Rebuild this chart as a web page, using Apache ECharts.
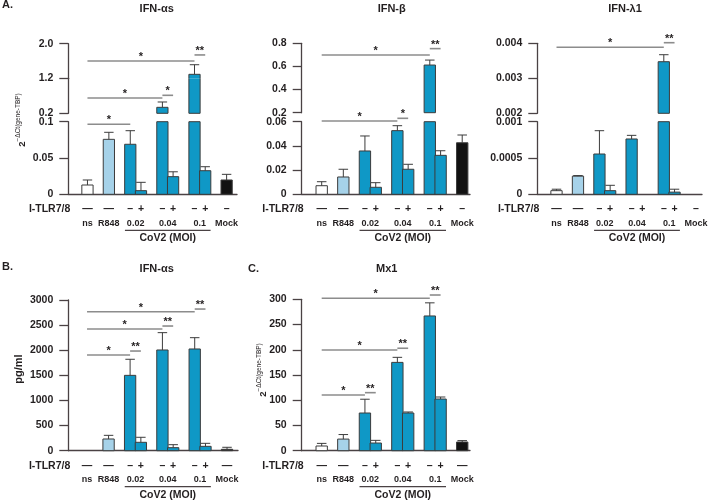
<!DOCTYPE html>
<html>
<head>
<meta charset="utf-8">
<title>IFN responses to CoV2</title>
<script src="https://cdn.jsdelivr.net/npm/echarts@6/dist/echarts.min.js"></script>
<style>
    html, body { margin: 0; background: #fff; }
    #main { width: 708px; height: 501px; }
</style>
</head>
<body>
<div id="main"></div>
<script>
// --- data ---------------------------------------------------------------
var conditions = ['ns', 'R848', '0.02 -', '0.02 +', '0.04 -', '0.04 +', '0.1 -', '0.1 +', 'Mock'];
var groups = ['ns', 'R848', '0.02', '0.04', '0.1', 'Mock'];
var groupMembers = [[0], [1], [2, 3], [4, 5], [6, 7], [8]];
var signsA = ['—', '—', '–', '+', '–', '+', '–', '+', '–'];
var signsBC = ['—', '—', '–', '+', '–', '+', '–', '+', '—'];

// A. qPCR, 2^-dCt(gene-TBP)
var ifnAsRna = [0.0128, 0.0757, 0.0689, 0.005, 0.371, 0.0243, 1.292, 0.0325, 0.0197];
var ifnAsRnaErr = [0.0197, 0.0854, 0.0876, 0.0165, 0.523, 0.031, 1.514, 0.038, 0.0275];
var ifnB = [0.0071, 0.0143, 0.0358, 0.0058, 0.0526, 0.0207, 0.612, 0.0322, 0.0426];
var ifnBErr = [0.0104, 0.0207, 0.0482, 0.0096, 0.0567, 0.0248, 0.655, 0.036, 0.049];
var ifnL1 = [0.00005, 0.00025, 0.000555, 0.00005, 0.000762, 0, 0.003474, 0.00003, 0];
var ifnL1Err = [0.00007, 0.000258, 0.000876, 0.000124, 0.000812, 0, 0.003674, 0.00007, 0];
// B. ELISA, pg/ml
var ifnAsProt = [0, 233, 1500, 167, 2005, 60, 2025, 87, 28];
var ifnAsProtErr = [0, 306, 1820, 267, 2350, 120, 2250, 147, 68];
// C. Mx1 qPCR
var mx1 = [9.3, 23, 74.7, 15.2, 175, 74.7, 267, 102.4, 17.2];
var mx1Err = [14.5, 32, 102, 20.5, 185, 76.7, 293, 106.4, 20];

// tick values per axis segment (top to bottom)
var ticksAsRna = [[2.0], [0.2, 1.2], [0, 0.05, 0.1]];
var labelsAsRna = [['2.0'], ['0.2', '1.2'], ['0', '0.05', '0.1']];
var ticksB = [[0.2, 0.4, 0.6, 0.8], [0, 0.02, 0.04, 0.06]];
var ticksL1 = [[0.002, 0.003, 0.004], [0, 0.0005, 0.001]];
var ticksAsProt = [[0, 500, 1000, 1500, 2000, 2500, 3000]];
var ticksMx1 = [[0, 50, 100, 150, 200, 250, 300]];

// significance brackets: [from, to, label, segment, y value]
var bracketsAsRna = [[0, 6, '*', 0, 1.6], [6, 7, '**', 0, 1.74], [0, 4, '*', 1, 0.637], [4, 5, '*', 1, 0.714], [0, 2, '*', 2, 0.0964]];
var bracketsB = [[0, 6, '*', 0, 0.699], [6, 7, '**', 0, 0.754], [0, 4, '*', 1, 0.0606], [4, 5, '*', 1, 0.0628]];
var bracketsL1 = [[0, 6, '*', 0, 0.003886], [6, 7, '**', 0, 0.004017]];
var bracketsAsProt = [[0, 6, '*', 0, 2766], [6, 7, '**', 0, 2820], [0, 4, '*', 0, 2422], [4, 5, '**', 0, 2482], [0, 2, '*', 0, 1904], [2, 3, '**', 0, 1984]];
var bracketsMx1 = [[0, 6, '*', 0, 302], [6, 7, '**', 0, 308.5], [0, 4, '*', 0, 199.5], [4, 5, '**', 0, 203], [0, 2, '*', 0, 110.4], [2, 3, '**', 0, 115]];

// --- layout -------------------------------------------------------------
var slots = [0, 2, 4, 5, 7, 8, 10, 11, 13];
var barColors = ['#ffffff', '#a6d2e9', '#0f98c6', '#0f98c6', '#0f98c6', '#0f98c6', '#0f98c6', '#0f98c6', '#121212'];
var axisColor = '#4a4244';
var textColor = '#231f20';
var font = 'Liberation Sans, Arial, sans-serif';
var barFrac = 1.05;

function segs(ticks, labels, bounds) {
    return ticks.map(function (t, i) {
        var b = bounds[i];
        return {
            min: b[0], max: b[1], top: b[2], bottom: b[3], ticks: t,
            labels: labels ? labels[i] : null, joinAbove: !!b[4], joinBelow: !!b[5]
        };
    });
}

var rnaTitle = '{b|2}{s|−ΔCt(gene-TBP)}';

var panels = [
    {
        name: 'IFN-αs', values: ifnAsRna, errors: ifnAsRnaErr, signs: signsA, brackets: bracketsAsRna,
        left: 68.3, right: 237, xMin: -1.79, xMax: 13.97,
        segments: segs(ticksAsRna, labelsAsRna, [[1.2, 2.0, 43.7, 78.3, false, true], [0.2, 1.2, 78.3, 113.3, true, false], [0, 0.1, 121.7, 194.3]]),
        title: [156.7, 8.5], letter: ['A.', 2, 5], yTitle: [rnaTitle, 21, 120, true]
    },
    {
        name: 'IFN-β', values: ifnB, errors: ifnBErr, signs: signsA, brackets: bracketsB,
        left: 301.7, right: 470, xMin: -1.85, xMax: 13.72,
        segments: segs(ticksB, null, [[0.2, 0.8, 43.3, 112.7], [0, 0.06, 121.7, 194.3]]),
        title: [391.7, 8.5]
    },
    {
        name: 'IFN-λ1', values: ifnL1, errors: ifnL1Err, signs: signsA, brackets: bracketsL1,
        left: 537.3, right: 702, xMin: -1.79, xMax: 13.56,
        segments: segs(ticksL1, null, [[0.002, 0.004, 43.3, 113.3], [0, 0.001, 121.7, 194.3]]),
        title: [625, 8.5]
    },
    {
        name: 'IFN-αs', values: ifnAsProt, errors: ifnAsProtErr, signs: signsBC, brackets: bracketsAsProt,
        left: 68.3, right: 238, xMin: -1.74, xMax: 14.02,
        segments: segs(ticksAsProt, null, [[0, 3000, 300, 450.7]]),
        title: [156.7, 268.5], letter: ['B.', 2, 267], yTitle: ['pg/ml', 19, 369, false]
    },
    {
        name: 'Mx1', values: mx1, errors: mx1Err, signs: signsBC, brackets: bracketsMx1,
        left: 301.7, right: 470, xMin: -1.85, xMax: 13.72,
        segments: segs(ticksMx1, null, [[0, 300, 299.3, 450.7]]),
        title: [386.7, 268.5], letter: ['C.', 248, 269], yTitle: [rnaTitle, 262, 370, true]
    }
];

function barRenderer(s) {
    return function (params, api) {
        var slot = api.value(0), v = api.value(1), e = api.value(2), ci = api.value(3);
        var kids = [];
        if (!(v > 0) || v <= s.min) return { type: 'group', children: kids };
        var w = api.size([1, 0])[0] * barFrac;
        var hi = Math.min(v, s.max);
        var pLo = api.coord([slot, s.min]), pHi = api.coord([slot, hi]);
        var x0 = pLo[0] - w / 2, x1 = pLo[0] + w / 2, yb = pLo[1], yt = pHi[1];
        var edge = { stroke: '#3c3c3c', lineWidth: 1 };
        kids.push({ type: 'rect', shape: { x: x0, y: yt, width: w, height: yb - yt }, style: { fill: barColors[ci] } });
        var lines = [[x0, yb, x0, yt], [x1, yb, x1, yt]];
        if (v <= s.max || !s.joinAbove) lines.push([x0, yt, x1, yt]);
        if (!s.joinBelow) lines.push([x0, yb, x1, yb]);
        if (v <= s.max && e > v) {
            var pE = api.coord([slot, Math.min(e, s.max)]);
            lines.push([pHi[0], yt, pHi[0], pE[1]]);
            if (e <= s.max) lines.push([pHi[0] - w * 0.42, pE[1], pHi[0] + w * 0.42, pE[1]]);
        }
        lines.forEach(function (l) {
            kids.push({ type: 'line', shape: { x1: l[0], y1: l[1], x2: l[2], y2: l[3] }, style: edge });
        });
        return { type: 'group', children: kids };
    };
}

var chart = echarts.init(document.getElementById('main'));
var grids = [], xAxes = [], yAxes = [], series = [];

panels.forEach(function (p) {
    p.gridIdx = [];
    p.segments.forEach(function (s, si) {
        var gi = grids.length;
        var isBase = si === p.segments.length - 1;
        p.gridIdx.push(gi);
        grids.push({ left: p.left, width: p.right - p.left, top: s.top, height: s.bottom - s.top });
        xAxes.push({
            gridIndex: gi, type: 'value', min: p.xMin, max: p.xMax,
            axisLine: { show: isBase, onZero: false, lineStyle: { color: axisColor, width: 1.3 } },
            axisTick: { show: false }, axisLabel: { show: false }, splitLine: { show: false }
        });
        yAxes.push({
            gridIndex: gi, type: 'value', min: s.min, max: s.max,
            axisLine: { show: true, onZero: false, lineStyle: { color: axisColor, width: 1.3 } },
            axisTick: { show: true, length: 9, customValues: s.ticks, lineStyle: { color: axisColor, width: 1.3 } },
            axisLabel: {
                customValues: s.ticks, margin: 15, color: textColor, fontWeight: 'bold', fontSize: 10.5, fontFamily: font,
                formatter: function (val) {
                    if (!s.labels) return String(val);
                    var i = s.ticks.indexOf(val);
                    return i >= 0 ? s.labels[i] : String(val);
                }
            },
            splitLine: { show: false }
        });
        series.push({
            type: 'custom', xAxisIndex: gi, yAxisIndex: gi, clip: false, silent: true,
            renderItem: barRenderer(s),
            data: p.values.map(function (v, i) { return [slots[i], v, p.errors[i], i]; })
        });
    });
});

chart.setOption({ animation: false, grid: grids, xAxis: xAxes, yAxis: yAxes, series: series });

// --- annotations placed through the axes' own scales --------------------
function txt(x, y, str, size, align, extra) {
    var st = { text: str, x: x, y: y, fill: textColor, font: 'bold ' + size + 'px ' + font, align: align || 'center', verticalAlign: 'middle' };
    if (extra) for (var k in extra) st[k] = extra[k];
    return { type: 'text', silent: true, style: st };
}
function seg(x1, y1, x2, y2, color, width) {
    return { type: 'line', silent: true, shape: { x1: x1, y1: y1, x2: x2, y2: y2 }, style: { stroke: color, lineWidth: width } };
}

var gfx = [];
panels.forEach(function (p) {
    var base = p.segments.length - 1;
    var px = function (si, x, y) { return chart.convertToPixel({ gridIndex: p.gridIdx[si] }, [x, y]); };
    var y0 = px(base, 0, 0)[1];

    gfx.push(txt(p.title[0], p.title[1], p.name, 11));
    if (p.letter) gfx.push(txt(p.letter[1], p.letter[2], p.letter[0], 11, 'left'));
    if (p.yTitle) {
        var yt = p.yTitle;
        var t = yt[3]
            ? { type: 'text', silent: true, x: yt[1], y: yt[2], rotation: Math.PI / 2,
                style: { text: yt[0], fill: textColor, align: 'center', verticalAlign: 'middle',
                    rich: { b: { fontSize: 9.5, fontWeight: 'bold', fontFamily: font, fill: textColor, lineHeight: 13, verticalAlign: 'bottom' },
                            s: { fontSize: 6.5, fontFamily: font, fill: textColor, lineHeight: 13, verticalAlign: 'top' } } } }
            : { type: 'text', silent: true, x: yt[1], y: yt[2], rotation: Math.PI / 2,
                style: { text: yt[0], fill: textColor, font: 'bold 11px ' + font, align: 'center', verticalAlign: 'middle' } };
        gfx.push(t);
    }

    // I-TLR7/8 row
    gfx.push(txt(p.left + 2, y0 + 15, 'I-TLR7/8', 10.5, 'right'));
    p.signs.forEach(function (sg, i) {
        gfx.push(txt(px(base, slots[i], 0)[0], y0 + 15, sg, 10.5));
    });
    // condition row
    groupMembers.forEach(function (m, gi) {
        var xa = px(base, slots[m[0]], 0)[0], xb = px(base, slots[m[m.length - 1]], 0)[0];
        gfx.push(txt((xa + xb) / 2, y0 + 29, groups[gi], 9));
    });
    var ua = px(base, slots[2] - 0.5, 0)[0], ub = px(base, slots[7] + 0.5, 0)[0];
    gfx.push(seg(ua, y0 + 36, ub, y0 + 36, axisColor, 1.2));
    gfx.push(txt((ua + ub) / 2, y0 + 44, 'CoV2 (MOI)', 10.5));

    // significance brackets
    p.brackets.forEach(function (b) {
        var a = px(b[3], slots[b[0]], b[4]), c = px(b[3], slots[b[1]], b[4]);
        gfx.push(seg(a[0], a[1], c[0], c[1], '#8c8c8c', 1.6));
        gfx.push(txt((a[0] + c[0]) / 2, a[1] - 4, b[2], 11));
    });
});

chart.setOption({ graphic: gfx });
</script>
</body>
</html>
